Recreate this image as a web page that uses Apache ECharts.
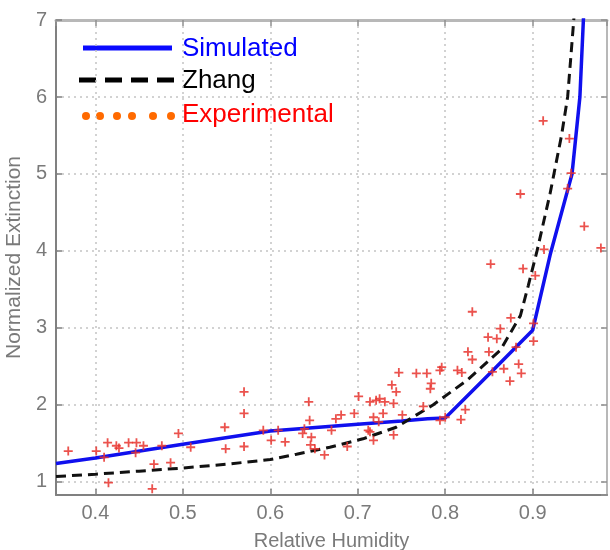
<!DOCTYPE html>
<html>
<head>
<meta charset="utf-8">
<script src="https://cdn.jsdelivr.net/npm/echarts@6/dist/echarts.min.js"></script>
<style>html,body{margin:0;padding:0;background:#fff;}#c{width:610px;height:550px;}</style>
</head>
<body>
<div id="c"></div>
<script>
var xMin = 0.355, xMax = 0.985, yMin = 0.83, yMax = 7;
var simulated = [[0.355,1.24],[0.4,1.31],[0.5,1.49],[0.6,1.66],[0.7,1.75],[0.75,1.79],[0.78,1.82],[0.8,1.83],[0.853,2.43],[0.9,2.97],[0.92,3.95],[0.945,5.0],[0.954,6.0],[0.958,7.0],[0.961,7.6]];
var zhang = [[0.355,1.07],[0.4,1.10],[0.45,1.14],[0.5,1.18],[0.55,1.23],[0.6,1.29],[0.63,1.36],[0.668,1.45],[0.706,1.56],[0.744,1.71],[0.786,2.0],[0.825,2.32],[0.863,2.71],[0.886,3.16],[0.895,3.55],[0.905,4.0],[0.92,4.75],[0.933,5.5],[0.94,6.0],[0.947,7.0],[0.95,7.5]];
var experimental = [
[0.369,1.40],[0.401,1.40],[0.410,1.32],[0.414,1.51],[0.415,0.99],[0.424,1.47],[0.427,1.44],[0.438,1.51],[0.446,1.38],[0.447,1.51],[0.455,1.47],[0.465,0.91],[0.467,1.23],[0.476,1.47],[0.486,1.25],[0.495,1.63],[0.509,1.45],[0.548,1.71],[0.549,1.43],[0.570,2.17],[0.570,1.89],[0.570,1.46],
[0.592,1.67],[0.601,1.54],[0.609,1.67],[0.617,1.52],[0.637,1.63],[0.639,1.69],[0.644,2.04],[0.645,1.80],[0.646,1.48],[0.647,1.58],[0.651,1.43],[0.662,1.35],[0.670,1.67],[0.675,1.82],[0.681,1.87],[0.688,1.46],[0.696,1.89],[0.701,2.11],[0.712,1.67],[0.714,2.04],[0.714,1.65],[0.718,1.84],[0.718,1.54],[0.721,2.06],[0.724,1.78],[0.725,2.08],[0.729,1.89],[0.731,2.04],[0.739,2.26],[0.741,2.02],[0.741,1.61],[0.744,2.17],[0.747,2.42],[0.751,1.87],[0.767,2.41],
[0.779,2.41],[0.783,2.21],[0.784,2.28],[0.775,1.98],[0.794,2.45],[0.796,2.49],[0.794,1.80],[0.800,1.84],[0.814,2.45],[0.819,2.42],[0.818,1.81],[0.823,1.94],
[0.826,2.69],[0.831,2.59],[0.831,3.21],[0.849,2.88],[0.850,2.69],[0.854,2.43],[0.859,2.86],[0.852,3.83],[0.863,2.99],[0.867,2.47],[0.875,3.13],[0.874,2.31],[0.881,2.75],[0.884,2.53],[0.887,2.41],[0.886,4.74],[0.889,3.77],[0.901,2.83],[0.901,3.06],[0.903,3.68],[0.912,5.69],[0.913,4.02],[0.940,4.81],[0.942,5.46],[0.944,5.01],[0.959,4.32],[0.978,4.04]
];
var legendNames = ['Simulated','Zhang','Experimental'];
var xTitle = 'Relative Humidity', yTitle = 'Normalized Extinction';

var FONT = 'Liberation Sans, Arial, sans-serif';
var chart = echarts.init(document.getElementById('c'), null, {renderer:'canvas'});
var lbl = {color:'#7a7a7a', fontSize:20, fontFamily:FONT};
function xfmt(v){ var r = Math.round(v*10)/10; return Math.abs(r - v) < 1e-6 ? r.toFixed(1) : ''; }
function yfmt(v){ return Math.abs(Math.round(v) - v) < 1e-6 ? String(Math.round(v)) : ''; }
var grid = {left:56, top:20, right:3, bottom:55, containLabel:false, outerBoundsMode:'none'};
var plusPath = 'path://M4,0 L6,0 L6,4 L10,4 L10,6 L6,6 L6,10 L4,10 L4,6 L0,6 L0,4 L4,4 Z';
var LF = '26px Liberation Sans, Arial, sans-serif';

var option = {
  animation:false,
  backgroundColor:'#fff',
  grid: grid,
  xAxis: [{
    type:'value', min:xMin, max:xMax, position:'bottom',
    name:xTitle, nameLocation:'middle', nameGap:36,
    nameTextStyle:{color:'#7a7a7a', fontSize:20, fontFamily:FONT},
    axisLine:{show:true, onZero:false, lineStyle:{color:'#808080', width:2}},
    axisTick:{show:true, inside:true, length:6, lineStyle:{color:'#808080', width:1.5}},
    axisLabel:Object.assign({margin:8, formatter:xfmt, showMinLabel:false, showMaxLabel:false}, lbl),
    splitLine:{show:true, lineStyle:{color:'#c4c4c4', width:1.5, type:[2,4]}}
  },{
    type:'value', min:xMin, max:xMax, position:'top',
    axisLine:{show:true, onZero:false, lineStyle:{color:'#b8b8b8', width:3}},
    axisTick:{show:true, inside:true, length:6, lineStyle:{color:'#909090', width:1.5}},
    axisLabel:{show:false}, splitLine:{show:false}
  }],
  yAxis: [{
    type:'value', min:yMin, max:yMax, position:'left',
    name:yTitle, nameLocation:'middle', nameGap:28, nameRotate:90,
    nameTextStyle:{color:'#7a7a7a', fontSize:21, fontFamily:FONT},
    axisLine:{show:true, onZero:false, lineStyle:{color:'#808080', width:2}},
    axisTick:{show:true, inside:true, length:6, lineStyle:{color:'#808080', width:1.5}},
    axisLabel:Object.assign({margin:9, formatter:yfmt, showMinLabel:false}, lbl),
    splitLine:{show:true, lineStyle:{color:'#c4c4c4', width:1.5, type:[2,4]}}
  },{
    type:'value', min:yMin, max:yMax, position:'right',
    axisLine:{show:true, onZero:false, lineStyle:{color:'#b8b8b8', width:2}},
    axisTick:{show:true, inside:true, length:6, lineStyle:{color:'#909090', width:1.5}},
    axisLabel:{show:false}, splitLine:{show:false}
  }],
  series: [{
    name:legendNames[0], type:'line', data:simulated, showSymbol:false, symbol:'none',
    lineStyle:{color:'#1010ee', width:3.5}, clip:true, z:3
  },{
    name:legendNames[1], type:'line', data:zhang, showSymbol:false, symbol:'none',
    lineStyle:{color:'#111', width:3, type:[10,6]}, clip:true, z:4
  },{
    name:legendNames[2], type:'scatter', data:experimental, symbol:plusPath, symbolSize:9,
    itemStyle:{color:'#e8342e', opacity:0.85}, clip:true, z:5
  }],
  graphic: [
    {type:'line', shape:{x1:83,y1:48,x2:172,y2:48}, style:{stroke:'#0a0aff', lineWidth:5}},
    {type:'text', left:182, top:36, style:{text:legendNames[0], fill:'#0000ff', font:LF}},
    {type:'line', shape:{x1:79,y1:80,x2:175,y2:80}, style:{stroke:'#000', lineWidth:5, lineDash:[17,9]}},
    {type:'text', left:182, top:68, style:{text:legendNames[1], fill:'#000', font:LF}},
    {type:'circle', shape:{cx:86,cy:116,r:4}, style:{fill:'#ff6a00'}},
    {type:'circle', shape:{cx:100,cy:116,r:4}, style:{fill:'#ff6a00'}},
    {type:'circle', shape:{cx:117,cy:116,r:4}, style:{fill:'#ff6a00'}},
    {type:'circle', shape:{cx:132,cy:116,r:4}, style:{fill:'#ff6a00'}},
    {type:'circle', shape:{cx:153,cy:116,r:4}, style:{fill:'#ff6a00'}},
    {type:'circle', shape:{cx:171,cy:116,r:4}, style:{fill:'#ff6a00'}},
    {type:'text', left:182, top:102, style:{text:legendNames[2], fill:'#ff0000', font:LF}}
  ]
};
chart.setOption(option);
</script>
</body>
</html>
